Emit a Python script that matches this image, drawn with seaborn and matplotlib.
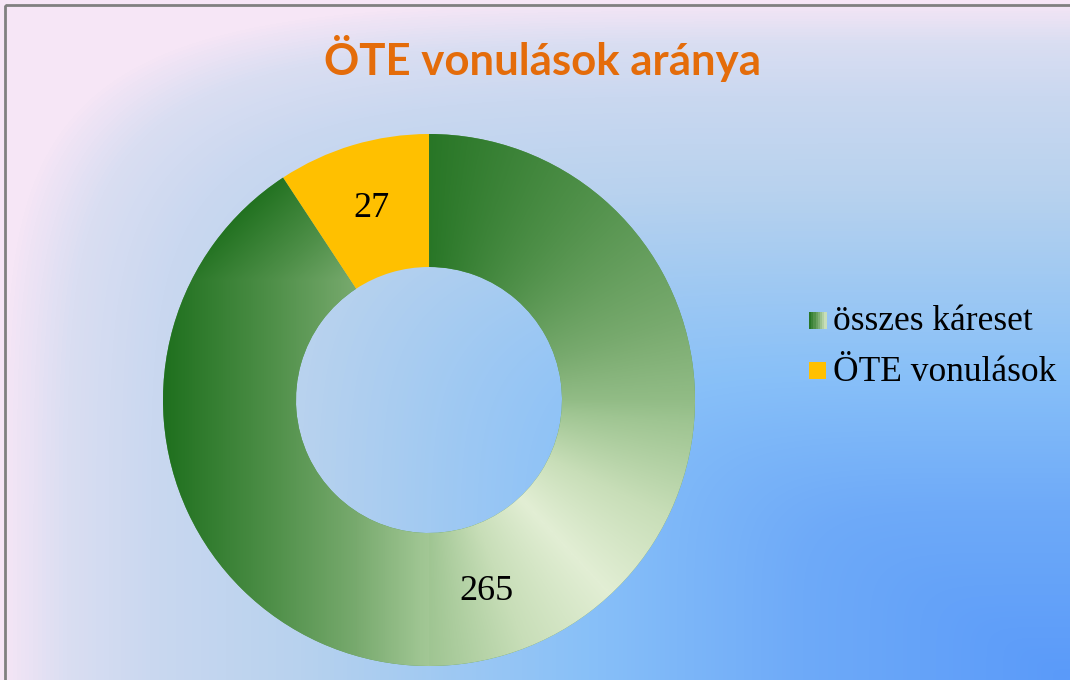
import numpy as np
import matplotlib
matplotlib.use("Agg")
import matplotlib.pyplot as plt
import seaborn as sns
from matplotlib.colors import LinearSegmentedColormap
from matplotlib.patches import Rectangle
from matplotlib.legend_handler import HandlerBase

# ---- data ----
categories = ["összes káreset", "ÖTE vonulások"]
values = [265, 27]
title_text = "ÖTE vonulások aránya"

sns.set_theme(style="white")
plt.rcParams['font.family'] = ['DejaVu Sans']

W, H = 1070, 680
fig = plt.figure(figsize=(W / 100, H / 100), dpi=100)

# ---- background gradient ----
bg_ax = fig.add_axes([0, 0, 1, 1], zorder=-10)
bg_ax.set_xlim(0, W)
bg_ax.set_ylim(H, 0)
bg_ax.axis("off")
xx, yy = np.meshgrid(np.arange(W) + 0.5, np.arange(H) + 0.5)
a = (W - xx) / W
b = (H - yy) / H
p = 6.0
tb = np.clip((a ** p + b ** p) ** (1 / p), 0, 1)
bg_cmap = LinearSegmentedColormap.from_list(
    "bg",
    [(0.0, "#5a9afa"), (0.25, "#6eaaf8"), (0.45, "#88c0f8"), (0.6, "#a2caf2"),
     (0.72, "#b8d2ee"), (0.86, "#cad8f0"), (0.94, "#dadef2"), (1.0, "#f6e6f6")])
bg_ax.imshow(tb, cmap=bg_cmap, vmin=0, vmax=1, extent=[0, W, H, 0], aspect="auto",
             interpolation="bilinear")
bg_ax.add_patch(Rectangle((5, 5), W + 10, H + 10, fill=False, edgecolor="#808080", lw=2))

# ---- donut ----
cx, cy, R = 429, 400, 266
ax = fig.add_axes([(cx - R) / W, (H - cy - R) / H, 2 * R / W, 2 * R / H])
ax.set_facecolor("none")
total = sum(values)
green_col = "#5d9a55"
yellow_col = "#ffc000"
wedges, texts, autotexts = ax.pie(
    values, colors=[green_col, yellow_col], startangle=90, counterclock=False,
    radius=1.0, wedgeprops=dict(width=0.5, linewidth=0),
    autopct=lambda pct: f"{round(pct * total / 100)}", pctdistance=0.75,
    textprops=dict(family=["Liberation Serif", "DejaVu Serif"], fontsize=26, color="black"))
ax.set_xlim(-1, 1)
ax.set_ylim(-1, 1)
ax.set_aspect("equal")
ax.axis("off")

# gradient fill for green wedge
green_cmap = LinearSegmentedColormap.from_list(
    "gr",
    [(0.0, "#1f701e"), (0.25, "#4e8f48"), (0.45, "#78aa6e"), (0.6, "#9fc592"),
     (0.8, "#c8deb8"), (1.0, "#e2eed4")])
n = 600
gx, gy = np.meshgrid(np.linspace(-1, 1, n), np.linspace(1, -1, n))
theta = np.mod(90 - np.degrees(np.arctan2(gy, gx)), 360)
t_right = np.interp(theta, [0, 90, 137, 180], [0.05, 0.55, 1.0, 0.6])
t_left = np.clip(0.62 * (gx + 1) - 0.35 * np.clip(gy - 0.45, 0, None) / 0.55, 0, 1)
tg = np.where(theta <= 180, t_right, t_left)
img = ax.imshow(tg, cmap=green_cmap, vmin=0, vmax=1, extent=[-1, 1, -1, 1],
                interpolation="bilinear", zorder=wedges[0].get_zorder() + 0.1)
img.set_clip_path(wedges[0])
for t in autotexts:
    t.set_zorder(5)


# ---- legend ----
class GradientHandler(HandlerBase):
    def create_artists(self, legend, orig_handle, xdescent, ydescent, width, height,
                       fontsize, trans):
        arts = []
        k = 8
        side = height * 0.75
        x0 = xdescent + width - side
        y0 = ydescent + (height - side) / 2
        for i in range(k):
            c = green_cmap(0.05 + 0.75 * i / (k - 1))
            arts.append(Rectangle((x0 + side * i / k, y0), side / k + 0.3, side,
                                  facecolor=c, edgecolor="none", transform=trans))
        return arts


class SquareHandler(HandlerBase):
    def create_artists(self, legend, orig_handle, xdescent, ydescent, width, height,
                       fontsize, trans):
        side = height * 0.75
        x0 = xdescent + width - side
        y0 = ydescent + (height - side) / 2
        return [Rectangle((x0, y0), side, side, facecolor=orig_handle.get_facecolor(),
                          edgecolor="none", transform=trans)]


leg = fig.legend(wedges, categories, loc="center left",
                 bbox_to_anchor=(773 / W, 1 - 347 / H), frameon=False,
                 handler_map={wedges[0]: GradientHandler(), wedges[1]: SquareHandler()},
                 prop=dict(family=["Liberation Serif", "DejaVu Serif"], size=25.5),
                 handlelength=0.6, handleheight=0.6, handletextpad=0.2, labelspacing=0.5)
for txt in leg.get_texts():
    txt.set_color("black")

# ---- title ----
fig.text(543 / W, 1 - 58 / H, title_text, ha="center", va="center",
         fontsize=31.5, fontweight="bold", color="#e46c0a", family=["Lato", "DejaVu Sans"])

fig.savefig("out.png", dpi=100)
